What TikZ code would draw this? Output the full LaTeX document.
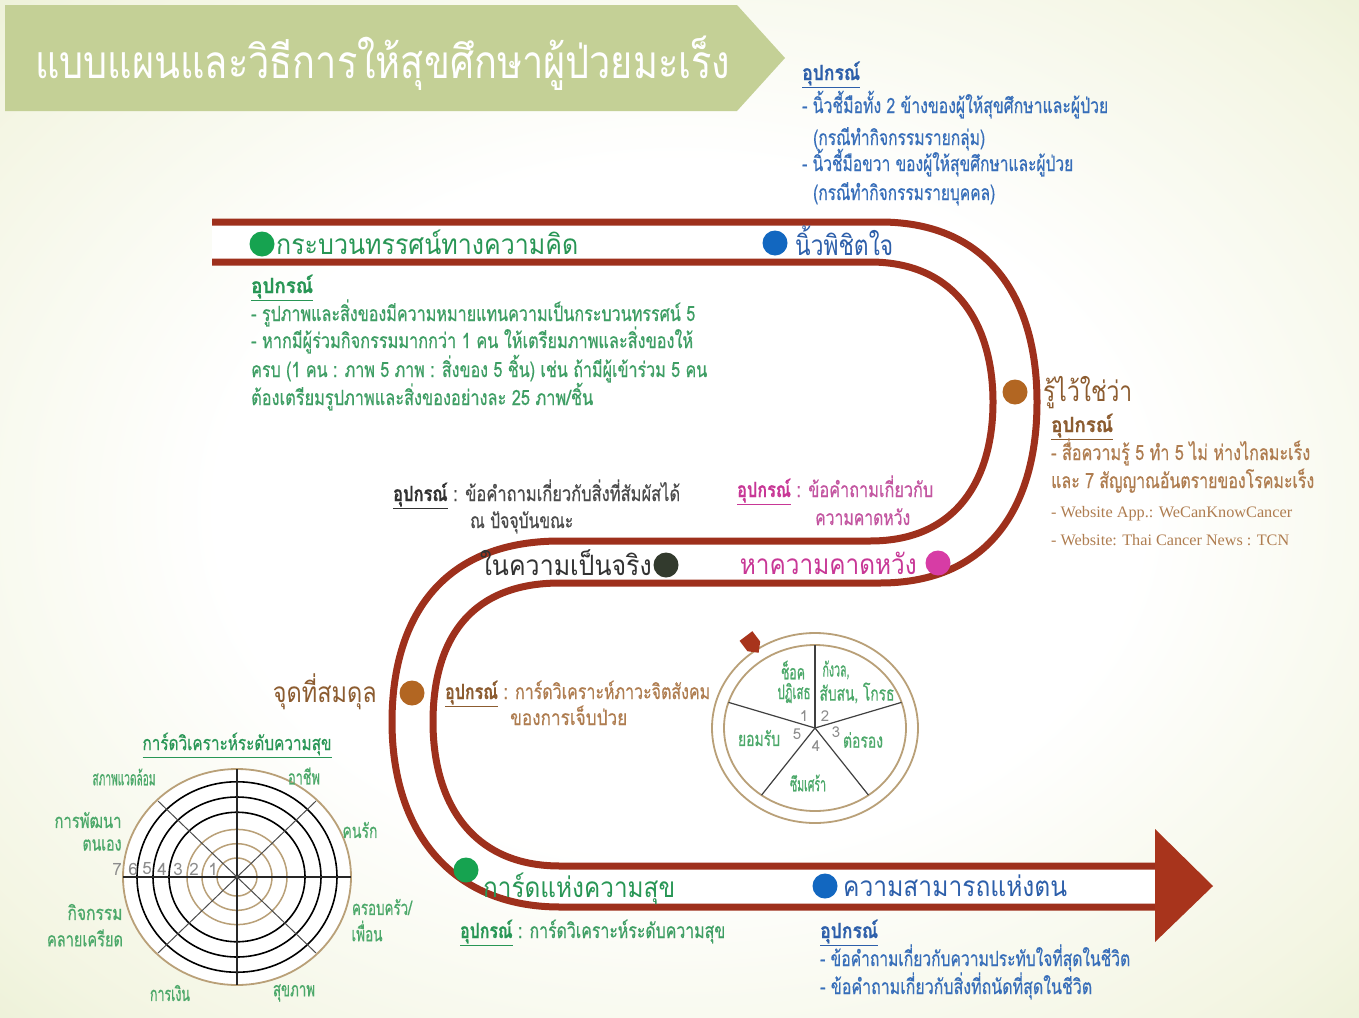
\documentclass[tikz,border=0pt]{standalone}
\usepackage{fontspec}
\usepackage{graphicx}
\setmainfont[Script=Thai]{Loma}
\newfontfamily\medfont[Script=Thai,FakeBold=0.6]{Loma}
\newfontfamily\enserif{Liberation Serif}
\definecolor{road}{RGB}{158,48,28}
\definecolor{roadarr}{RGB}{168,52,28}
\definecolor{banner}{RGB}{196,208,150}
\definecolor{bgmid}{RGB}{243,245,226}
\definecolor{bgout}{RGB}{216,227,180}
\definecolor{gdot}{RGB}{22,163,80}
\definecolor{gtxt}{RGB}{40,150,85}
\definecolor{gdesc}{RGB}{62,158,100}
\definecolor{bdot}{RGB}{18,103,192}
\definecolor{btxt}{RGB}{45,95,170}
\definecolor{bdesc}{RGB}{55,110,185}
\definecolor{brdot}{RGB}{178,102,34}
\definecolor{brtxt}{RGB}{140,92,48}
\definecolor{brdesc}{RGB}{175,125,80}
\definecolor{kdot}{RGB}{50,58,45}
\definecolor{ktxt}{RGB}{50,50,50}
\definecolor{kdesc}{RGB}{75,75,75}
\definecolor{mdot}{RGB}{215,60,165}
\definecolor{mtxt}{RGB}{200,55,150}
\definecolor{mdesc}{RGB}{195,85,160}
\definecolor{tanc}{RGB}{185,160,120}
\definecolor{chartg}{RGB}{75,168,105}
\definecolor{numg}{RGB}{140,140,140}
\pgfdeclareradialshading{bgsh}{\pgfpoint{0bp}{0bp}}{color(0bp)=(white);color(17bp)=(white);color(32bp)=(bgmid);color(50bp)=(bgout)}
\newcommand\fx[2]{\resizebox{#1pt}{\height}{#2}}
\newcommand\upk{\underline{\textbf{อุปกรณ์}}}
\tikzset{
  lbl/.style={inner sep=0pt, font={\fontsize{28}{34}\selectfont}},
  desc/.style={inner sep=0pt, font={\medfont\fontsize{21}{24}\selectfont}},
  smalltxt/.style={inner sep=0pt, font={\medfont\fontsize{20}{22}\selectfont}},
  dotnode/.style={circle, inner sep=0pt, minimum size=25pt},
  roadline/.style={draw=road, line width=7pt},
  spoke/.style={draw=black!75, line width=1.2pt},
}
\begin{document}
\begin{tikzpicture}[x=1pt,y=-1pt]
\useasboundingbox (0,0) rectangle (1359,1017);
\shade[shading=bgsh] (0,0) rectangle (1359,1017);
% banner
\fill[banner] (5,5) -- (737,5) -- (785,58) -- (737,111) -- (5,111) -- cycle;
\node[inner sep=0pt, white, anchor=base west, font={\fontsize{46}{52}\selectfont}] (title) at (35,78) {\fx{695}{แบบแผนและวิธีการให้สุขศึกษาผู้ป่วยมะเร็ง}};
% road
\fill[white] (212,222) -- (880,222) .. controls (990,222) and (1037,300) .. (1037,402) .. controls (1037,505) and (990,583) .. (880,583) -- (560,583) .. controls (470,583) and (433,640) .. (433,722) .. controls (433,800) and (470,866) .. (560,866) -- (1157,866) -- (1157,907) -- (560,907) .. controls (450,907) and (392,830) .. (392,722) .. controls (392,620) and (440,541) .. (560,541) -- (870,541) .. controls (960,541) and (993,475) .. (993,402) .. controls (993,330) and (960,262) .. (870,262) -- (212,262) -- cycle;
\draw[roadline] (212,222) -- (880,222) .. controls (990,222) and (1037,300) .. (1037,402) .. controls (1037,505) and (990,583) .. (880,583) -- (560,583) .. controls (470,583) and (433,640) .. (433,722) .. controls (433,800) and (470,866) .. (560,866) -- (1157,866);
\draw[roadline] (212,262) -- (870,262) .. controls (960,262) and (993,330) .. (993,402) .. controls (993,475) and (960,541) .. (870,541) -- (560,541) .. controls (440,541) and (392,620) .. (392,722) .. controls (392,830) and (450,907) .. (560,907) -- (1157,907);
\fill[roadarr] (1155,829) -- (1213,886) -- (1155,942) -- cycle;
% dots
\node[dotnode, fill=gdot] (d1) at (262,244) {};
\node[dotnode, fill=bdot] (d2) at (775,243) {};
\node[dotnode, fill=brdot] (d3) at (1015,392) {};
\node[dotnode, fill=kdot] (d4) at (666,565) {};
\node[dotnode, fill=mdot] (d5) at (938,563) {};
\node[dotnode, fill=brdot] (d6) at (412,693) {};
\node[dotnode, fill=gdot] (d7) at (466,870) {};
\node[dotnode, fill=bdot] (d8) at (825,886) {};
% road labels
\node[lbl, gtxt, anchor=base west] (lab1) at (276,254) {\fx{302}{กระบวนทรรศน์ทางความคิด}};
\node[lbl, btxt, anchor=base west] (lab2) at (795,255) {\fx{98}{นิ้วพิชิตใจ}};
\node[lbl, brtxt, anchor=base west] (lab3) at (1043,401) {\fx{89}{รู้ไว้ใช่ว่า}};
\node[lbl, ktxt, anchor=base east] (lab4) at (652,575) {\fx{172}{ในความเป็นจริง}};
\node[lbl, mtxt, anchor=base east] (lab5) at (917,574) {\fx{177}{หาความคาดหวัง}};
\node[lbl, brtxt, anchor=base east] (lab6) at (377,702) {\fx{104}{จุดที่สมดุล}};
\node[lbl, gtxt, anchor=base west] (lab7) at (483,897) {\fx{192}{การ์ดแห่งความสุข}};
\node[lbl, btxt, anchor=base west] (lab8) at (843,896) {\fx{224}{ความสามารถแห่งตน}};
% top right block
\node[desc, btxt, anchor=base west] (tr1) at (802,80) {\fx{58}{\upk}};
\node[desc, bdesc, anchor=base west] (tr2) at (802,113) {\fx{306}{- นิ้วชี้มือทั้ง 2 ข้างของผู้ให้สุขศึกษาและผู้ป่วย}};
\node[desc, bdesc, anchor=base west] (tr3) at (813,145) {\fx{172}{(กรณีทำกิจกรรมรายกลุ่ม)}};
\node[desc, bdesc, anchor=base west] (tr4) at (802,171) {\fx{271}{- นิ้วชี้มือขวา ของผู้ให้สุขศึกษาและผู้ป่วย}};
\node[desc, bdesc, anchor=base west] (tr5) at (813,200) {\fx{182}{(กรณีทำกิจกรรมรายบุคคล)}};
% left green block
\node[desc, gtxt, anchor=base west] (gl1) at (251,293) {\fx{62}{\upk}};
\node[desc, gdesc, anchor=base west] (gl2) at (251,321) {\fx{444}{- รูปภาพและสิ่งของมีความหมายแทนความเป็นกระบวนทรรศน์ 5}};
\node[desc, gdesc, anchor=base west] (gl3) at (251,348) {\fx{442}{- หากมีผู้ร่วมกิจกรรมมากกว่า 1 คน ให้เตรียมภาพและสิ่งของให้}};
\node[desc, gdesc, anchor=base west] (gl4) at (251,377) {\fx{456}{ครบ (1 คน : ภาพ 5 ภาพ : สิ่งของ 5 ชิ้น) เช่น ถ้ามีผู้เข้าร่วม 5 คน}};
\node[desc, gdesc, anchor=base west] (gl5) at (251,405) {\fx{342}{ต้องเตรียมรูปภาพและสิ่งของอย่างละ 25 ภาพ/ชิ้น}};
% right brown block
\node[desc, brtxt, anchor=base west] (br1) at (1051,432) {\fx{62}{\upk}};
\node[desc, brdesc, anchor=base west] (br2) at (1051,460) {\fx{259}{- สื่อความรู้ 5 ทำ 5 ไม่ ห่างไกลมะเร็ง}};
\node[desc, brdesc, anchor=base west] (br3) at (1051,488) {\fx{263}{และ 7 สัญญาณอันตรายของโรคมะเร็ง}};
\node[inner sep=0pt, brdesc, anchor=base west, font={\enserif\fontsize{16}{18}\selectfont}] (br4) at (1051,517) {\fx{241}{- Website App.: WeCanKnowCancer}};
\node[inner sep=0pt, brdesc, anchor=base west, font={\enserif\fontsize{16}{18}\selectfont}] (br5) at (1051,545) {\fx{238}{- Website: Thai Cancer News : TCN}};
% middle dark
\node[desc, kdesc, anchor=base west] (k1) at (393,501) {\fx{287}{{\color{ktxt}\upk} : ข้อคำถามเกี่ยวกับสิ่งที่สัมผัสได้}};
\node[desc, kdesc, anchor=base west] (k2) at (470,528) {\fx{103}{ณ ปัจจุบันขณะ}};
% magenta
\node[desc, mdesc, anchor=base west] (m1) at (737,497) {\fx{196}{{\color{mtxt}\upk} : ข้อคำถามเกี่ยวกับ}};
\node[desc, mdesc, anchor=base west] (m2) at (815,525) {\fx{95}{ความคาดหวัง}};
% brown mid
\node[desc, brdesc, anchor=base west] (bm1) at (445,699) {\fx{265}{{\color{brtxt}\upk} : การ์ดวิเคราะห์ภาวะจิตสังคม}};
\node[desc, brdesc, anchor=base west] (bm2) at (510,725) {\fx{117}{ของการเจ็บป่วย}};
% green bottom
\node[desc, gdesc, anchor=base west] (gb1) at (460,938) {\fx{265}{{\color{gtxt}\upk} : การ์ดวิเคราะห์ระดับความสุข}};
% blue bottom
\node[desc, btxt, anchor=base west] (bb1) at (820,938) {\fx{58}{\upk}};
\node[desc, bdesc, anchor=base west] (bb2) at (820,966) {\fx{310}{- ข้อคำถามเกี่ยวกับความประทับใจที่สุดในชีวิต}};
\node[desc, bdesc, anchor=base west] (bb3) at (820,994) {\fx{272}{- ข้อคำถามเกี่ยวกับสิ่งที่ถนัดที่สุดในชีวิต}};
% wheel
\coordinate (wc) at (815,728);
\draw[tanc, line width=1.8pt, fill=white] (wc) ellipse [x radius=103, y radius=95];
\draw[tanc, line width=1.8pt] (wc) ellipse [x radius=91, y radius=83];
\foreach \a in {90,18,-54,-126,162} \draw[spoke] (wc) -- ({815+91*cos(\a)},{728-83*sin(\a)});
\fill[roadarr, shift={(752,644)}, rotate=-53] (-10,-8) -- (3,-8) -- (11,0) -- (3,8) -- (-10,8) -- cycle;
\node[smalltxt, chartg] (w1a) at (793,670) {\fx{24}{ช็อค}};
\node[smalltxt, chartg] (w1b) at (794,693) {\fx{33}{ปฏิเสธ}};
\node[smalltxt, chartg] (w2a) at (836,670) {\fx{27}{กังวล,}};
\node[smalltxt, chartg] (w2b) at (857,693) {\fx{75}{สับสน, โกรธ}};
\node[smalltxt, chartg] (w3) at (863,740) {\fx{40}{ต่อรอง}};
\node[smalltxt, chartg] (w4) at (808,783) {\fx{36}{ซึมเศร้า}};
\node[smalltxt, chartg] (w5) at (759,738) {\fx{42}{ยอมรับ}};
\node[inner sep=0pt, numg, font={\fontsize{15}{16}\selectfont}] (wn1) at (804,716) {1};
\node[inner sep=0pt, numg, font={\fontsize{15}{16}\selectfont}] (wn2) at (825,716) {2};
\node[inner sep=0pt, numg, font={\fontsize{15}{16}\selectfont}] (wn3) at (836,732) {3};
\node[inner sep=0pt, numg, font={\fontsize{15}{16}\selectfont}] (wn4) at (816,746) {4};
\node[inner sep=0pt, numg, font={\fontsize{15}{16}\selectfont}] (wn5) at (797,734) {5};
% happiness chart
\coordinate (hc) at (237,877);
\draw[tanc, line width=1.8pt, fill=white] (hc) ellipse [x radius=114, y radius=108];
\foreach \r in {20,35,50} \draw[tanc, line width=1.5pt] (hc) ellipse [x radius=\r, y radius={\r/1.05}];
\foreach \r in {68,84,100} \draw[black, line width=1.6pt] (hc) ellipse [x radius=\r, y radius={\r/1.05}];
\draw[black!85, line width=1.3pt] (123,877) -- (351,877);
\draw[black!85, line width=1.3pt] (237,769) -- (237,985);
\draw[black!70, line width=1pt] (158,801) -- (316,953);
\draw[black!70, line width=1pt] (158,953) -- (316,801);
\foreach \n/\x in {7/117,6/133,5/147,4/162,3/178,2/194,1/213} \node[inner sep=0pt, numg, font={\fontsize{17}{18}\selectfont}] (cn\n) at (\x,869) {\n};
\node[smalltxt, gtxt] (ct) at (237,745) {\fx{189}{\underline{การ์ดวิเคราะห์ระดับความสุข}}};
\node[smalltxt, chartg] (c1) at (124,777) {\fx{63}{สภาพแวดล้อม}};
\node[smalltxt, chartg] (c2) at (304,776) {\fx{32}{อาชีพ}};
\node[smalltxt, chartg] (c3) at (88,820) {\fx{67}{การพัฒนา}};
\node[smalltxt, chartg] (c4) at (102,845) {\fx{39}{ตนเอง}};
\node[smalltxt, chartg] (c5) at (360,830) {\fx{35}{คนรัก}};
\node[smalltxt, chartg] (c6) at (382,907) {\fx{60}{ครอบครัว/}};
\node[smalltxt, chartg] (c7) at (367,931) {\fx{31}{เพื่อน}};
\node[smalltxt, chartg] (c8) at (95,912) {\fx{55}{กิจกรรม}};
\node[smalltxt, chartg] (c9) at (85,938) {\fx{76}{คลายเครียด}};
\node[smalltxt, chartg] (c10) at (170,993) {\fx{40}{การเงิน}};
\node[smalltxt, chartg] (c11) at (294,993) {\fx{42}{สุขภาพ}};
\end{tikzpicture}
\end{document}
